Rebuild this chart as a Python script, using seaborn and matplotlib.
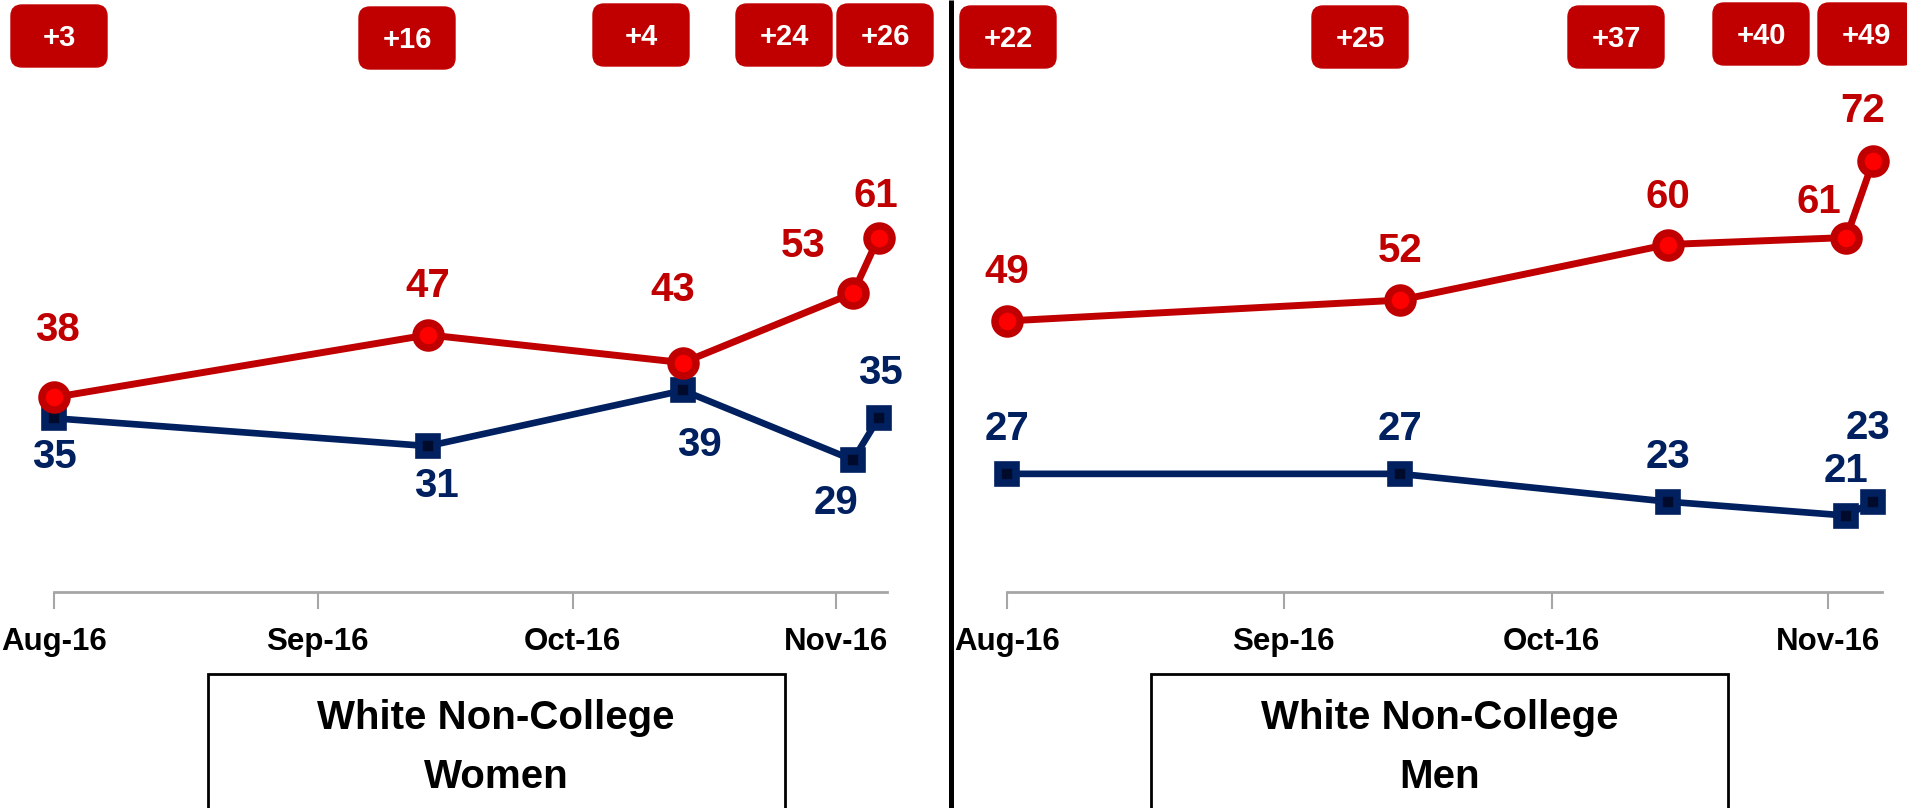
import matplotlib.pyplot as plt
import pandas as pd
import seaborn as sns
from matplotlib.patches import FancyBboxPatch, Rectangle

# Poll dates (same for both panels)
poll_dates = pd.to_datetime(['2016-08-01', '2016-09-14', '2016-10-14',
                             '2016-11-03', '2016-11-06'])
month_ticks = pd.to_datetime(['2016-08-01', '2016-09-01', '2016-10-01', '2016-11-01'])
tick_labels = ['Aug-16', 'Sep-16', 'Oct-16', 'Nov-16']

# White non-college women
women_red = [38, 47, 43, 53, 61]
women_blue = [35, 31, 39, 29, 35]
# White non-college men
men_red = [49, 52, 60, 61, 72]
men_blue = [27, 27, 23, 21, 23]

panel_titles = [('White Non-College', 'Women'), ('White Non-College', 'Men')]

RED_EDGE = '#C00000'
RED_FILL = '#FF0000'
NAVY = '#002060'
NAVY_DARK = '#000A2A'
GRAY = '#A6A6A6'

sns.set_style('white')
plt.rcParams['font.family'] = ['Liberation Sans', 'DejaVu Sans']
plt.rcParams['font.weight'] = 'bold'
plt.rcParams['text.color'] = 'black'

W, H = 1907, 808
fig = plt.figure(figsize=(W / 100, H / 100), dpi=100)

# axes placement in pixels: (left, width) for each panel, shared bottom/top
axis_y = 592          # pixel row of the x-axis line
px_per_unit = 6.95
y_lo, y_hi = 10, 90
panel_px = [(54, 833), (1007, 875)]

# label offsets in pixels (dx, dy of baseline) for each panel / series
red_offsets = [
    [(3, 56), (0, 38), (-10, 62), (-50, 36), (-3, 31)],
    [(0, 38), (0, 38), (0, 37), (-27, 25), (-10, 39)],
]
blue_offsets = [
    [(0, -50), (8, -51), (16, -66), (-17, -54), (2, 34)],
    [(0, 34), (0, 34), (0, 34), (0, 34), (-5, 63)],
]

series = [(women_red, women_blue), (men_red, men_blue)]
for i, (left_px, width_px) in enumerate(panel_px):
    height_px = (y_hi - y_lo) * px_per_unit
    ax = fig.add_axes([left_px / W, (H - axis_y) / H, width_px / W, height_px / H])
    red, blue = series[i]

    # blue first so the red circles sit on top
    sns.lineplot(x=poll_dates, y=blue, ax=ax, color=NAVY, linewidth=4.8,
                 marker='s', markersize=13, markeredgewidth=5.5,
                 markerfacecolor=NAVY_DARK, markeredgecolor=NAVY, clip_on=False)
    sns.lineplot(x=poll_dates, y=red, ax=ax, color=RED_EDGE, linewidth=5,
                 marker='o', markersize=18, markeredgewidth=5.4,
                 markerfacecolor=RED_FILL, markeredgecolor=RED_EDGE, clip_on=False)

    for d, v, (dx, dy) in zip(poll_dates, red, red_offsets[i]):
        ax.annotate(str(v), (d, v), xytext=(dx, dy), textcoords='offset pixels',
                    ha='center', va='baseline', fontsize=29, color=RED_EDGE,
                    fontweight='bold', annotation_clip=False)
    for d, v, (dx, dy) in zip(poll_dates, blue, blue_offsets[i]):
        ax.annotate(str(v), (d, v), xytext=(dx, dy), textcoords='offset pixels',
                    ha='center', va='baseline', fontsize=29, color=NAVY,
                    fontweight='bold', annotation_clip=False)

    ax.set_xlim(pd.Timestamp('2016-08-01'), pd.Timestamp('2016-11-07'))
    ax.set_ylim(y_lo, y_hi)
    ax.set_xticks(month_ticks)
    ax.set_xticklabels(tick_labels, fontsize=22.5, fontweight='bold')
    ax.set_yticks([])
    ax.set_xlabel('')
    ax.set_ylabel('')
    ax.tick_params(axis='x', direction='out', length=12, width=1.5,
                   color=GRAY, pad=13, labelcolor='black', bottom=True)
    for side in ['left', 'top', 'right']:
        ax.spines[side].set_visible(False)
    ax.spines['bottom'].set_color(GRAY)
    ax.spines['bottom'].set_linewidth(2)
    ax.patch.set_alpha(0)

# overlay in pixel coordinates for gap boxes, title boxes and divider
ov = fig.add_axes([0, 0, 1, 1])
ov.set_xlim(0, W)
ov.set_ylim(H, 0)
ov.axis('off')

# gap box positions (left, top) in pixels
gap_boxes = [
    [(11, 5), (359, 7), (593, 4), (736, 4), (837, 4)],
    [(960, 6), (1312, 6), (1568, 6), (1713, 3), (1818, 3)],
]
box_w, box_h = 96, 62
for i, (red, blue) in enumerate(series):
    for (bx, by), r, b in zip(gap_boxes[i], red, blue):
        ov.add_patch(FancyBboxPatch((bx, by), box_w, box_h,
                                    boxstyle='round,pad=0,rounding_size=11',
                                    fc=RED_EDGE, ec=RED_EDGE, lw=1))
        ov.text(bx + box_w / 2, by + box_h / 2 + 10, f'+{r - b}', ha='center',
                va='baseline', color='white', fontsize=21, fontweight='bold')

# panel title boxes
title_boxes = [(208, 496), (1151, 1440)]
for (bx, cx), (line1, line2) in zip(title_boxes, panel_titles):
    ov.add_patch(Rectangle((bx, 674), 577, 200, fc='white', ec='black', lw=2))
    ov.text(cx, 729, line1, ha='center', va='baseline', fontsize=29,
            fontweight='bold', color='black')
    ov.text(cx, 788, line2, ha='center', va='baseline', fontsize=29,
            fontweight='bold', color='black')

# divider between the two panels
ov.plot([950.5, 950.5], [0, H], color='black', linewidth=3.6, solid_capstyle='butt')

fig.savefig('out.png', dpi=100)
